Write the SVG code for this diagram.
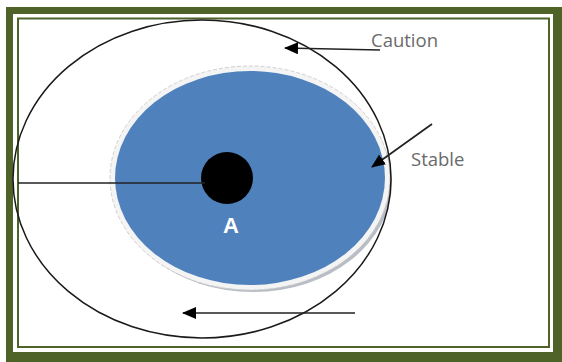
<svg xmlns="http://www.w3.org/2000/svg" width="562" height="362" viewBox="0 0 562 362">
<style>
.line{stroke:#222;stroke-width:1.7;fill:none}
.lbl{font-family:"Open Sans","Liberation Sans",sans-serif;font-size:18.5px;fill:#6a6a6a}
</style>
<defs>
<marker id="arr" markerWidth="14" markerHeight="12" refX="13" refY="6" orient="auto" markerUnits="userSpaceOnUse">
<path d="M0,0 L14,6 L0,12 z" fill="#000"/>
</marker>
</defs>
<rect x="0" y="0" width="562" height="362" fill="#fff"/>
<g id="frame">
<rect x="6" y="7" width="556" height="355" fill="#4f6228"/>
<rect x="13" y="14" width="540" height="338" fill="#fff"/>
<rect x="18" y="18.5" width="531" height="328.5" fill="none" stroke="#4f6228" stroke-width="2"/>
</g>
<g id="stable-zone">
<ellipse cx="253" cy="182" rx="139" ry="110" fill="#b8bcc4"/>
<ellipse cx="250" cy="178" rx="140" ry="112" fill="#f4f4f4" stroke="#d0d0d0" stroke-width="1" stroke-dasharray="4 2"/>
<ellipse cx="250" cy="178" rx="135" ry="107" fill="#4f81bd"/>
</g>
<g id="caution-zone">
<ellipse cx="202" cy="179" rx="189" ry="159" fill="none" stroke="#1a1a1a" stroke-width="1.5"/>
</g>
<g id="point-a">
<circle cx="227" cy="178" r="26" fill="#000"/>
<text x="231" y="233" font-family="'Liberation Sans',Arial,sans-serif" font-size="22" font-weight="bold" fill="#fff" text-anchor="middle">A</text>
</g>
<g id="connectors">
<line class="line" x1="18" y1="183" x2="205" y2="183"/>
<line class="line" x1="380" y1="50" x2="285" y2="48" marker-end="url(#arr)"/>
<line class="line" x1="432" y1="124" x2="372" y2="167" marker-end="url(#arr)"/>
<line class="line" x1="355" y1="313" x2="183" y2="313" marker-end="url(#arr)"/>
</g>
<g id="labels">
<text class="lbl" x="371" y="47">Caution</text>
<text class="lbl" x="411" y="166">Stable</text>
</g>
</svg>
